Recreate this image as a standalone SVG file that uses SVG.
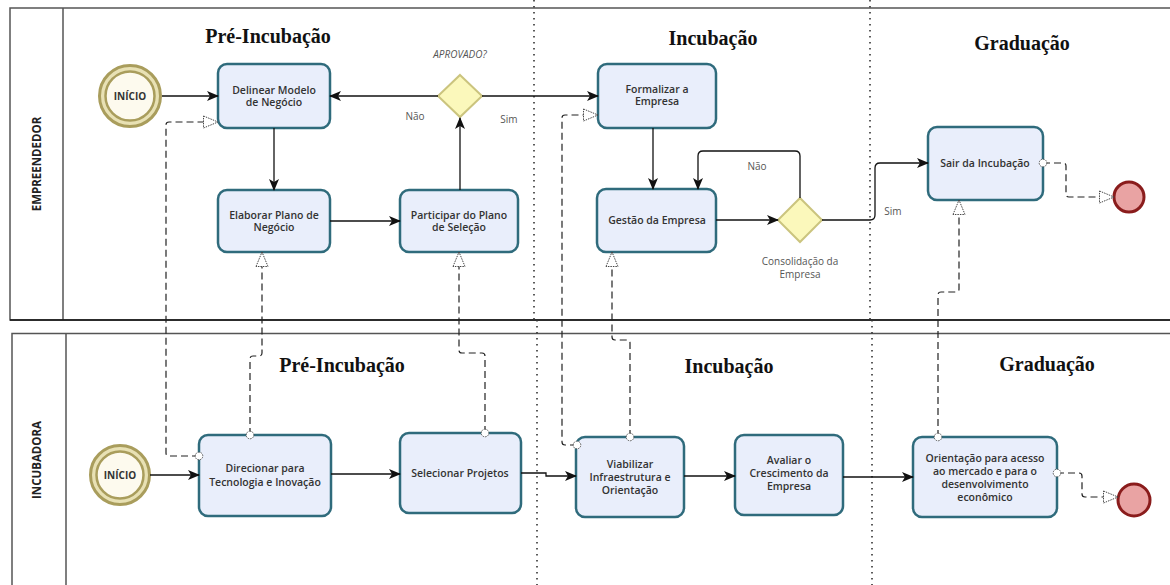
<svg xmlns="http://www.w3.org/2000/svg" width="1170" height="585" viewBox="0 0 1170 585">
  <style>
    .pool { fill: none; stroke: #555; stroke-width: 1.5; }
    .lane-label { font-family: "Open Sans", "DejaVu Sans", sans-serif; font-weight: 700; font-size: 11.5px; fill: #222; text-anchor: middle; }
    .phase { font-family: "Liberation Serif", "Times New Roman", serif; font-weight: 700; font-size: 20px; fill: #111; text-anchor: middle; }
    .sep { stroke: #333; stroke-width: 1.6; stroke-dasharray: 1.6 4.4; fill: none; }
    .task rect { fill: #e9eefb; stroke: #2f6b7c; stroke-width: 2.5; }
    .task text { font-family: "Open Sans", "DejaVu Sans", sans-serif; font-weight: 600; font-size: 10.5px; fill: #333; text-anchor: middle; }
    .start .ring { fill: #e8e1b4; stroke: #a99d5c; stroke-width: 3; }
    .start .core { fill: #fdfaee; stroke: #a99d5c; stroke-width: 2.5; }
    .start text { font-family: "Open Sans", "DejaVu Sans", sans-serif; font-weight: 700; font-size: 10px; fill: #333; text-anchor: middle; }
    .end circle { fill: #e9a3a3; stroke: #8a1c1c; stroke-width: 3; }
    .gw polygon { fill: #fbf8bb; stroke: #cbc47e; stroke-width: 2; }
    .lbl { font-family: "Open Sans", "DejaVu Sans", sans-serif; font-size: 10px; fill: #555; text-anchor: middle; }
    .flow { fill: none; stroke: #111; stroke-width: 1.3; marker-end: url(#arrow); }
    .msg { fill: none; stroke: #222; stroke-width: 1.2; stroke-dasharray: 7 4; marker-start: url(#msgStart); marker-end: url(#msgEnd); }
  </style>
  <defs>
    <marker id="arrow" viewBox="0 0 12 10" refX="11" refY="5" markerWidth="12" markerHeight="10" markerUnits="userSpaceOnUse" orient="auto">
      <path d="M0,0 L12,5 L0,10 L3,5 Z" fill="#111"/>
    </marker>
    <marker id="msgStart" viewBox="0 0 10 10" refX="5" refY="5" markerWidth="10" markerHeight="10" markerUnits="userSpaceOnUse" orient="auto">
      <circle cx="5" cy="5" r="3.8" fill="#fff" stroke="#444" stroke-width="0.9" stroke-dasharray="1.5 1"/>
    </marker>
    <marker id="msgEnd" viewBox="0 0 16 14" refX="15.5" refY="7" markerWidth="16" markerHeight="14" markerUnits="userSpaceOnUse" orient="auto">
      <path d="M1,1 L15.5,7 L1,13 Z" fill="#fff" stroke="#333" stroke-width="0.9" stroke-dasharray="1.5 1"/>
    </marker>
  </defs>

  <rect width="1170" height="585" fill="#fff"/>

  <!-- Pools and lane headers -->
  <g id="pool-empreendedor">
    <path class="pool" d="M1172,8 H10 V320 H1172"/>
    <line x1="63" y1="8" x2="63" y2="320" stroke="#555" stroke-width="1.5"/>
    <line x1="10" y1="320" x2="1172" y2="320" stroke="#111" stroke-width="1.3"/>
    <text class="lane-label" transform="translate(41,164) rotate(-90)">EMPREENDEDOR</text>
  </g>
  <g id="pool-incubadora">
    <path class="pool" d="M1172,333.5 H12 V590"/>
    <line x1="66" y1="333.5" x2="66" y2="590" stroke="#555" stroke-width="1.5"/>
    <text class="lane-label" transform="translate(41,460) rotate(-90)">INCUBADORA</text>
  </g>

  <!-- Phase separators -->
  <g id="separators">
    <line class="sep" x1="534" y1="0" x2="534" y2="320"/>
    <line class="sep" x1="537" y1="320" x2="537" y2="585"/>
    <line class="sep" x1="870" y1="0" x2="870" y2="320"/>
    <line class="sep" x1="872" y1="320" x2="872" y2="585"/>
  </g>

  <!-- Phase titles -->
  <g id="phase-titles">
    <text class="phase" x="268" y="43">Pré-Incubação</text>
    <text class="phase" x="713" y="45">Incubação</text>
    <text class="phase" x="1022" y="50">Graduação</text>
    <text class="phase" x="342" y="372">Pré-Incubação</text>
    <text class="phase" x="729" y="373">Incubação</text>
    <text class="phase" x="1047" y="371">Graduação</text>
  </g>

  <!-- Empreendedor lane -->
  <g id="start-empreendedor" class="start">
    <circle class="ring" cx="130" cy="96" r="30.5"/>
    <circle class="core" cx="130" cy="96" r="24.5"/>
    <text x="130" y="100">INÍCIO</text>
  </g>
  <g id="task-delinear" class="task">
    <rect x="218" y="64" width="112" height="64" rx="9"/>
    <text x="274" y="94">Delinear Modelo</text>
    <text x="274" y="106">de Negócio</text>
  </g>
  <g id="task-elaborar" class="task">
    <rect x="218" y="190" width="112" height="62" rx="9"/>
    <text x="274" y="219">Elaborar Plano de</text>
    <text x="274" y="231">Negócio</text>
  </g>
  <g id="task-participar" class="task">
    <rect x="400" y="190" width="118" height="62" rx="9"/>
    <text x="459" y="219">Participar do Plano</text>
    <text x="459" y="231">de Seleção</text>
  </g>
  <g id="gw-aprovado" class="gw">
    <polygon points="460,75 482,96 460,117 438,96"/>
    <text class="lbl" x="460" y="58" font-style="italic">APROVADO?</text>
  </g>
  <g id="task-formalizar" class="task">
    <rect x="598" y="64" width="118" height="64" rx="9"/>
    <text x="657" y="93">Formalizar a</text>
    <text x="657" y="105">Empresa</text>
  </g>
  <g id="task-gestao" class="task">
    <rect x="597" y="189" width="119" height="63" rx="9"/>
    <text x="657" y="224">Gestão da Empresa</text>
  </g>
  <g id="gw-consolidacao" class="gw">
    <polygon points="800,198 822,220 800,242 778,220"/>
    <text class="lbl" x="800" y="265">Consolidação da</text>
    <text class="lbl" x="800" y="278">Empresa</text>
  </g>
  <g id="task-sair" class="task">
    <rect x="928" y="127" width="115" height="73" rx="9"/>
    <text x="985" y="167">Sair da Incubação</text>
  </g>
  <g id="end-empreendedor" class="end">
    <circle cx="1129" cy="197" r="15"/>
  </g>

  <!-- Incubadora lane -->
  <g id="start-incubadora" class="start">
    <circle class="ring" cx="120" cy="475" r="29.5"/>
    <circle class="core" cx="120" cy="475" r="23.5"/>
    <text x="120" y="479">INÍCIO</text>
  </g>
  <g id="task-direcionar" class="task">
    <rect x="199" y="435" width="132" height="81" rx="9"/>
    <text x="265" y="472">Direcionar para</text>
    <text x="265" y="486">Tecnologia e Inovação</text>
  </g>
  <g id="task-selecionar" class="task">
    <rect x="400" y="433" width="121" height="80" rx="9"/>
    <text x="460" y="477">Selecionar Projetos</text>
  </g>
  <g id="task-viabilizar" class="task">
    <rect x="576" y="437" width="108" height="80" rx="9"/>
    <text x="630" y="468">Viabilizar</text>
    <text x="630" y="481">Infraestrutura e</text>
    <text x="630" y="494">Orientação</text>
  </g>
  <g id="task-avaliar" class="task">
    <rect x="735" y="435" width="108" height="80" rx="9"/>
    <text x="789" y="464">Avaliar o</text>
    <text x="789" y="477">Crescimento da</text>
    <text x="789" y="490">Empresa</text>
  </g>
  <g id="task-orientacao" class="task">
    <rect x="913" y="437" width="144" height="80" rx="9"/>
    <text x="985" y="462">Orientação para acesso</text>
    <text x="985" y="475">ao mercado e para o</text>
    <text x="985" y="488">desenvolvimento</text>
    <text x="985" y="501">econômico</text>
  </g>
  <g id="end-incubadora" class="end">
    <circle cx="1134" cy="500" r="16"/>
  </g>

  <!-- Connectors: sequence flows (solid) and message flows (dashed) -->
  <g id="connectors">
    <path class="flow" d="M162,96 H218"/>
    <path class="flow" d="M274,128 V190"/>
    <path class="flow" d="M330,221 H400"/>
    <path class="flow" d="M460,190 V118"/>
    <path class="flow" d="M438,96 H330"/>
    <path class="flow" d="M482,96 H598"/>
    <path class="flow" d="M653,128 V189"/>
    <path class="flow" d="M716,220 H778"/>
    <path class="flow" d="M800,198 V156 Q800,151 795,151 H703 Q698,151 698,156 V189"/>
    <path class="flow" d="M822,220 H870 Q875,220 875,215 V168 Q875,163 880,163 H928"/>

    <path class="flow" d="M150,475 H199"/>
    <path class="flow" d="M331,474 H400"/>
    <path class="flow" d="M521,473 H546 V476 H576"/>
    <path class="flow" d="M684,476 H735"/>
    <path class="flow" d="M843,477 H913"/>

    <path class="msg" d="M199,456 H169 Q166,456 166,453 V125 Q166,122 169,122 H218"/>
    <path class="msg" d="M250,435 V359 Q250,356 253,356 H259 Q262,356 262,353 V252"/>
    <path class="msg" d="M485,433 V356 Q485,353 482,353 H462 Q459,353 459,350 V252"/>
    <path class="msg" d="M577,445 H565 Q562,445 562,442 V118 Q562,115 565,115 H598"/>
    <path class="msg" d="M630,437 V343 Q630,340 627,340 H615 Q612,340 612,337 V252"/>
    <path class="msg" d="M938,437 V295 Q938,292 941,292 H956 Q959,292 959,289 V200"/>
    <path class="msg" d="M1043,163 H1063 Q1066,163 1066,166 V194 Q1066,197 1069,197 H1114"/>
    <path class="msg" d="M1057,473 H1079 Q1082,473 1082,476 V494 Q1082,497 1085,497 H1118"/>

    <text class="lbl" x="415" y="120">Não</text>
    <text class="lbl" x="509" y="123">Sim</text>
    <text class="lbl" x="757" y="170">Não</text>
    <text class="lbl" x="893" y="215">Sim</text>
  </g>
</svg>
